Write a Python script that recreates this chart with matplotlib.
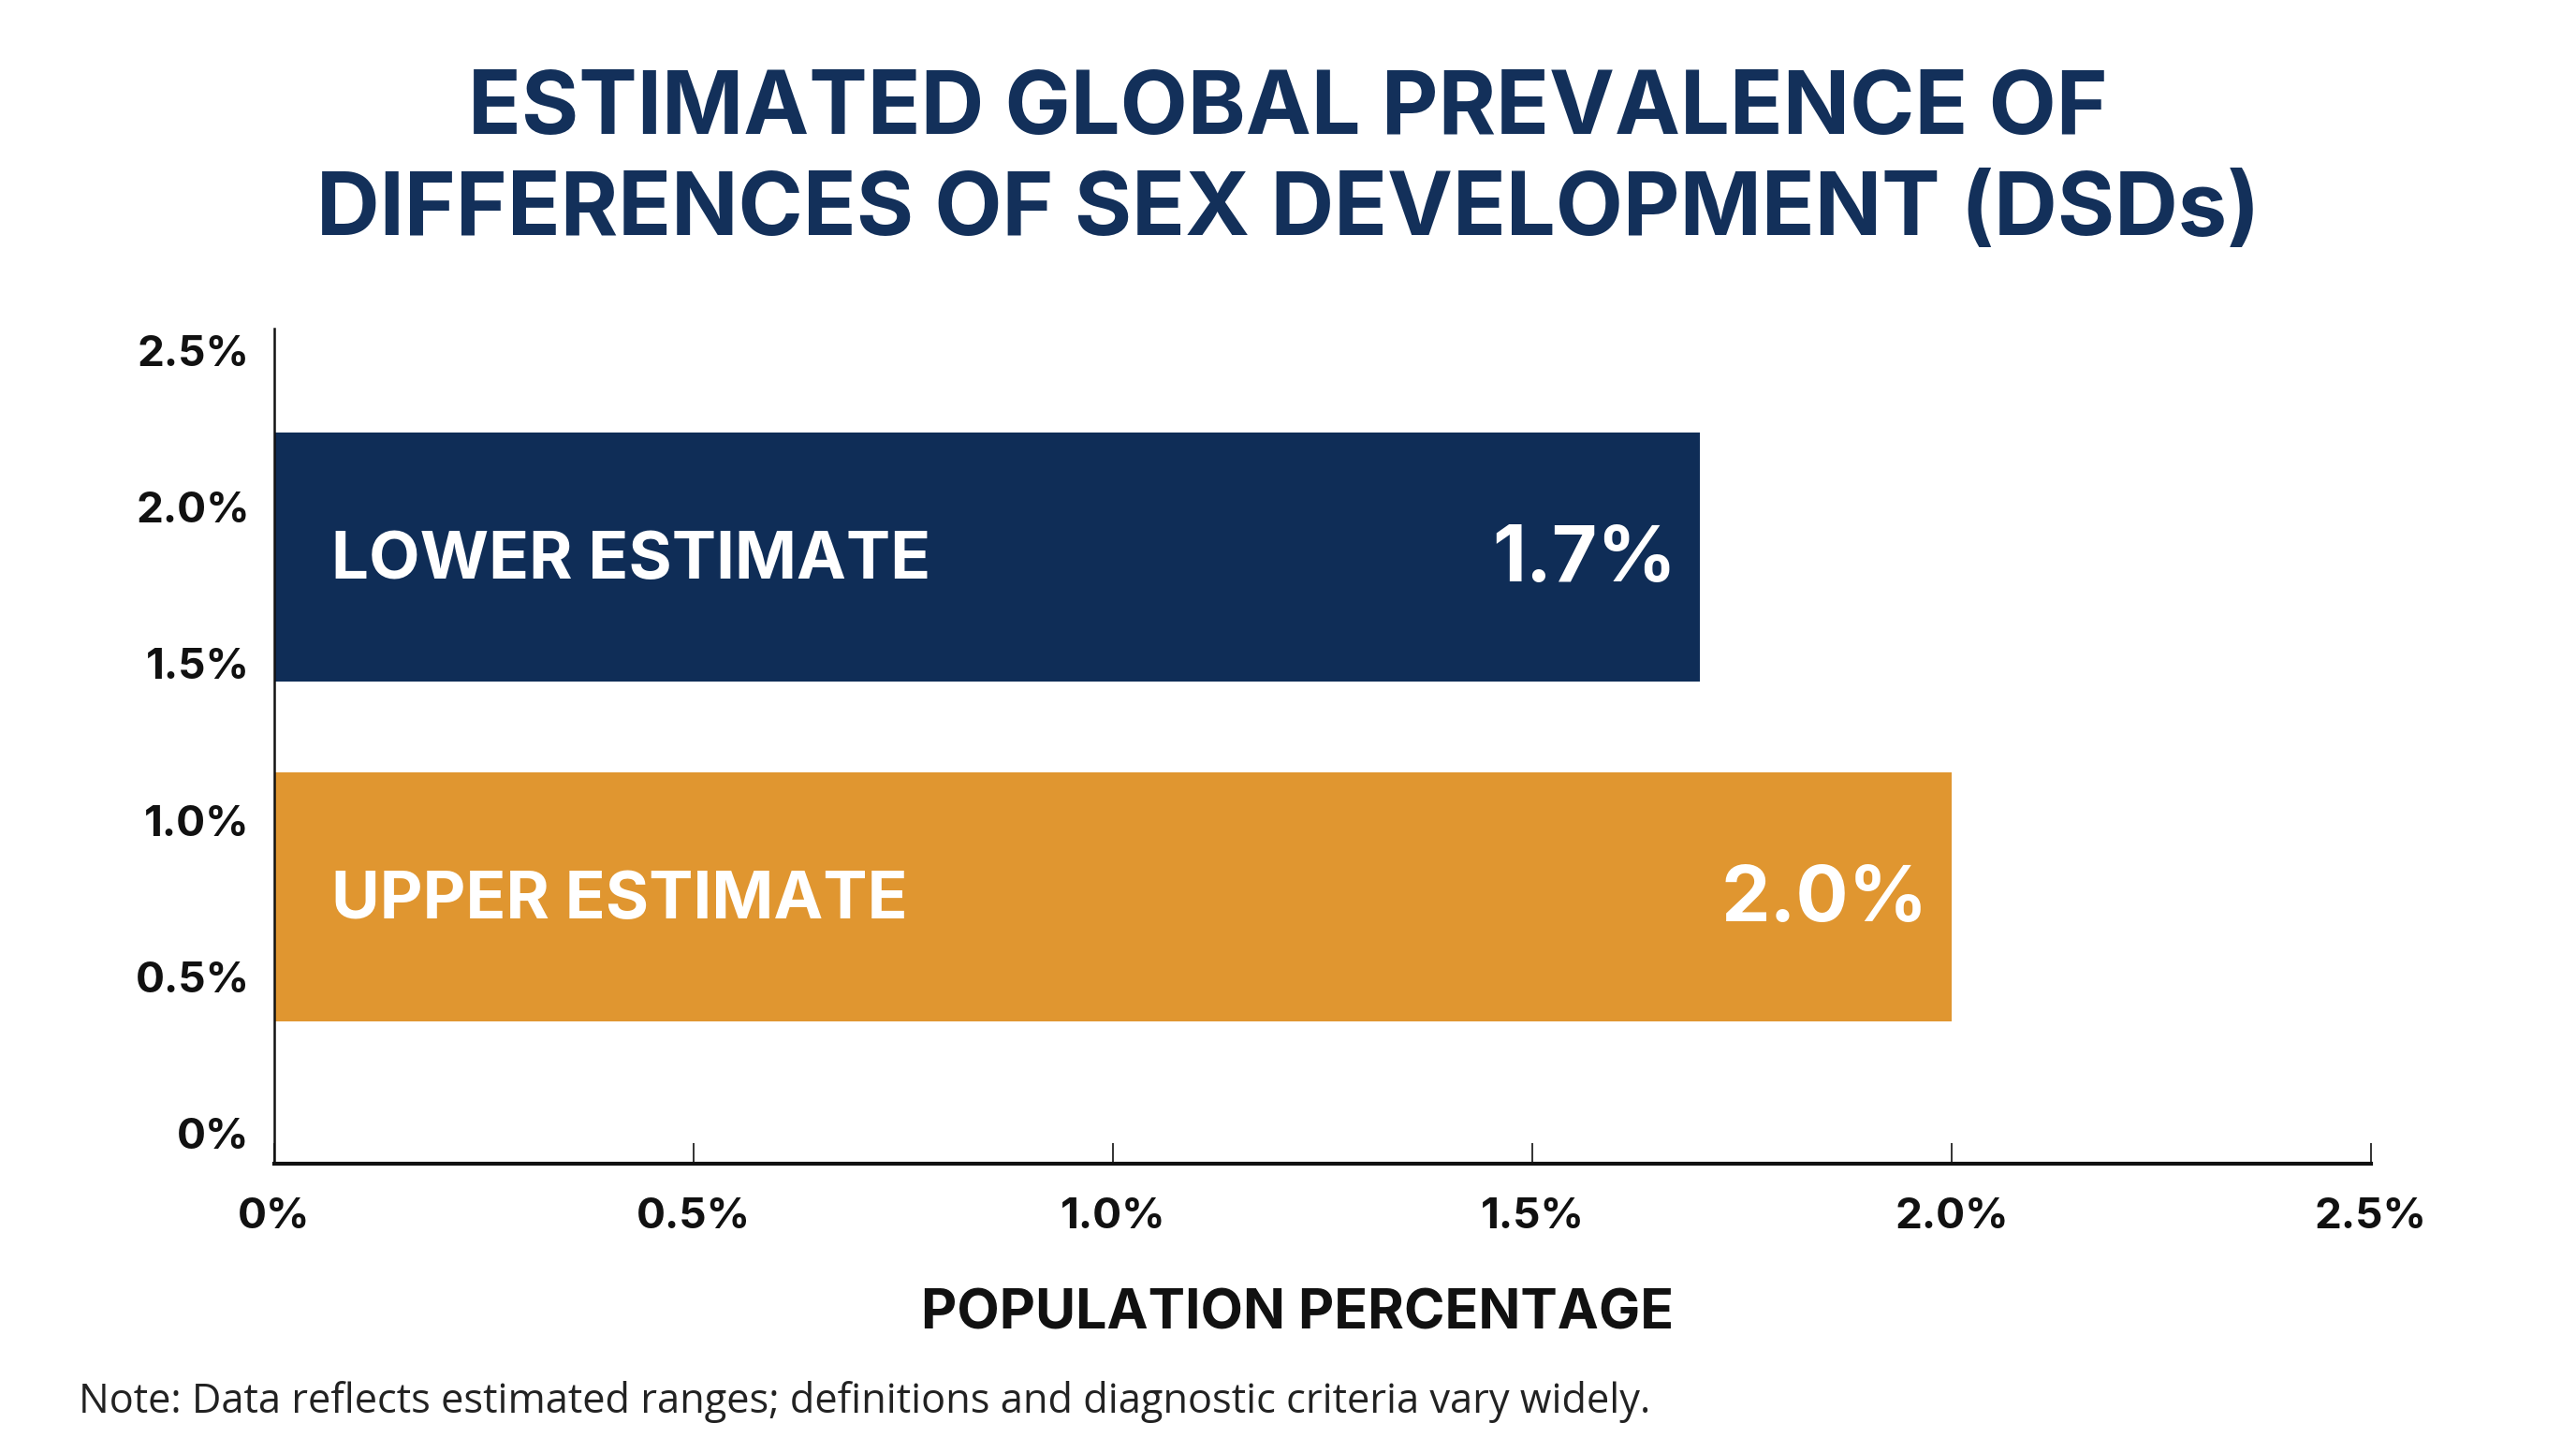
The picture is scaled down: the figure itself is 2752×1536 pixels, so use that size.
import matplotlib
matplotlib.use("Agg")
import matplotlib.pyplot as plt

# ---- data ----
categories = ["LOWER ESTIMATE", "UPPER ESTIMATE"]
values = [1.7, 2.0]
value_labels = ["1.7%", "2.0%"]
x_ticks = [0, 0.5, 1.0, 1.5, 2.0, 2.5]
x_tick_labels = ["0%", "0.5%", "1.0%", "1.5%", "2.0%", "2.5%"]
y_ticks = [0, 0.5, 1.0, 1.5, 2.0, 2.5]
y_tick_labels = ["0%", "0.5%", "1.0%", "1.5%", "2.0%", "2.5%"]
title = "ESTIMATED GLOBAL PREVALENCE OF\nDIFFERENCES OF SEX DEVELOPMENT (DSDs)"
x_label = "POPULATION PERCENTAGE"
note = "Note: Data reflects estimated ranges; definitions and diagnostic criteria vary widely."

# ---- style ----
navy = "#0f2d57"
orange = "#e09630"
bar_colors = [navy, orange]
bar_pos = [1.84, 0.755]
bar_height = 0.795

fig = plt.figure(figsize=(27.52, 15.36), dpi=100)
fig.patch.set_facecolor("white")
ax = fig.add_axes([0.1065, 0.1908, 0.9204 - 0.1065, 0.7715 - 0.1908])

ax.barh(bar_pos, values, height=bar_height, color=bar_colors, zorder=2)

for yp, cat, v, vl in zip(bar_pos, categories, values, value_labels):
    ax.annotate(cat, xy=(0, yp), xytext=(44, -3), textcoords="offset points",
                ha="left", va="center", color="white", fontsize=51,
                fontweight="bold", family="Inter")
    ax.annotate(vl, xy=(v, yp), xytext=(-18, -3), textcoords="offset points",
                ha="right", va="center", color="white", fontsize=60,
                fontweight="bold", family="Inter")

ax.set_xlim(0, 2.5)
ax.set_ylim(-0.0956, 2.569)
ax.set_xticks(x_ticks)
ax.set_xticklabels(x_tick_labels, fontsize=33, fontweight="bold", family="Inter", color="#111111")
ax.set_yticks(y_ticks)
ax.set_yticklabels(y_tick_labels, fontsize=33, fontweight="bold", family="Inter", color="#111111")
ax.tick_params(axis="x", direction="in", length=16, width=1.2, pad=26, color="#111111")
ax.tick_params(axis="y", length=0, pad=19)

for s in ["top", "right"]:
    ax.spines[s].set_visible(False)
ax.spines["bottom"].set_linewidth(3)
ax.spines["bottom"].set_color("#111111")
ax.spines["left"].set_linewidth(1.8)
ax.spines["left"].set_color("#111111")

fig.text(0.5035, 0.086, x_label, ha="center", va="center", fontsize=42.5, fontweight="bold",
         family="Inter", color="#111111")

fig.text(0.5, 0.8875, title, ha="center", va="center", fontsize=67.5, fontweight="bold",
         family="Inter", color="#13305a", linespacing=1.31)
fig.text(0.0305, 0.025, note, ha="left", va="center", fontsize=31.2, family="Open Sans",
         color="#222222")

fig.savefig("out.png", dpi=100, facecolor="white")
